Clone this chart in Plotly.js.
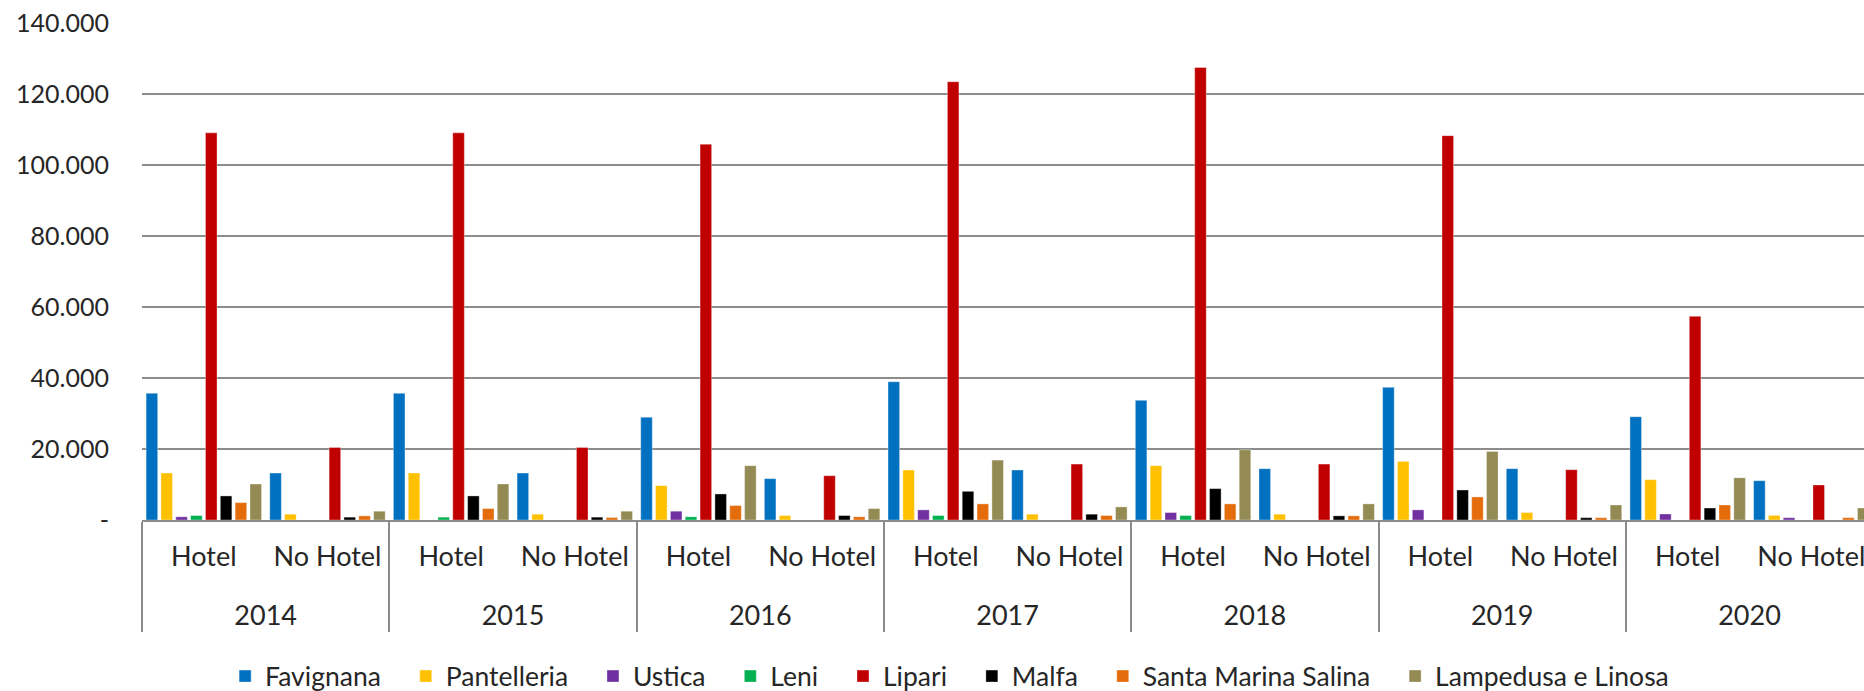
<!DOCTYPE html>
<html>
<head>
<meta charset="utf-8">
<script src="https://cdn.plot.ly/plotly-3.0.1.min.js"></script>
<style>
  html, body { margin: 0; padding: 0; background: #ffffff; overflow: hidden; }
  #chart { width: 1864px; height: 710px; }
</style>
</head>
<body>
<div id="chart"></div>
<script>
// Categories (outer: year, inner: structure type)
const years = ['2014','2014','2015','2015','2016','2016','2017','2017','2018','2018','2019','2019','2020','2020'];
const types = ['Hotel','No Hotel','Hotel','No Hotel','Hotel','No Hotel','Hotel','No Hotel','Hotel','No Hotel','Hotel','No Hotel','Hotel','No Hotel'];

// Series values
const favignana   = [35700, 13240, 35700, 13240, 28950, 11640, 38940, 14080, 33710, 14450, 37360, 14450, 29100, 11070];
const pantelleria = [13240, 1640, 13240, 1640, 9680, 1260, 14080, 1640, 15290, 1640, 16500, 2100, 11350, 1300];
const ustica      = [900, 0, 0, 0, 2480, 0, 2850, 0, 2100, 0, 2850, 0, 1690, 650];
const leni        = [1260, 0, 800, 0, 900, 0, 1260, 0, 1260, 0, 0, 0, 0, 0];
const lipari      = [109060, 20430, 109060, 20430, 105870, 12480, 123460, 15760, 127460, 15760, 108270, 14170, 57360, 9860];
const malfa       = [6780, 800, 6780, 800, 7340, 1260, 8080, 1640, 8840, 1170, 8460, 650, 3380, 0];
const santaMarina = [4900, 1170, 3220, 700, 4070, 900, 4540, 1260, 4540, 1170, 6500, 650, 4230, 650];
const lampedusa   = [10150, 2480, 10150, 2480, 15290, 3220, 16880, 3700, 19780, 4540, 19310, 4230, 11890, 3380];

const seriesNames = ['Favignana','Pantelleria','Ustica','Leni','Lipari','Malfa','Santa Marina Salina','Lampedusa e Linosa'];
const seriesData  = [favignana, pantelleria, ustica, leni, lipari, malfa, santaMarina, lampedusa];
const seriesColors = ['#0070C0','#FFC000','#7030A0','#00B050','#C00000','#000000','#E46C0A','#948A54'];

const FONT = 'Lato, "Open Sans", sans-serif';
const TXT = '#262626';

// outer labels get a leading blank line so they sit lower, like the reference
const outerLabels = years.map(y => '\u00a0<br>' + y);

const traces = seriesNames.map((name, i) => ({
  type: 'bar',
  name: i < seriesNames.length - 1 ? name + '\u2003' : name,
  x: [outerLabels, types],
  y: seriesData[i],
  marker: { color: seriesColors[i], line: { color: 'rgba(255,255,255,0.6)', width: 0.6 } },
  hoverinfo: 'y+name'
}));

const layout = {
  width: 1864,
  height: 710,
  paper_bgcolor: '#ffffff',
  plot_bgcolor: '#ffffff',
  margin: { l: 142, r: 0, t: 23, b: 189.5, pad: 0 },
  barmode: 'group',
  bargap: 0.04,
  bargroupgap: 0.22,
  separators: ',.',
  font: { family: FONT, size: 25, color: TXT },
  showlegend: true,
  legend: {
    orientation: 'h',
    x: 0.469, xanchor: 'center',
    y: -0.3146, yanchor: 'middle',
    font: { family: FONT, size: 26.5, color: TXT },
    itemwidth: 30,
    traceorder: 'normal',
    bgcolor: 'rgba(0,0,0,0)'
  },
  xaxis: {
    type: 'multicategory',
    range: [-0.5, 13.426],
    showgrid: false,
    showline: true,
    linecolor: '#8c8c8c',
    linewidth: 2,
    ticks: '',
    showdividers: true,
    dividercolor: '#8c8c8c',
    dividerwidth: 2,
    ticklabelstandoff: 12,
    tickfont: { family: FONT, size: 27, color: TXT },
    zeroline: false
  },
  yaxis: {
    range: [0, 140000],
    dtick: 20000,
    tick0: 0,
    tickformat: ',d',
    labelalias: { '0': '-' },
    showgrid: true,
    gridcolor: '#8c8c8c',
    gridwidth: 2,
    showline: false,
    zeroline: false,
    ticks: '',
    ticklabelstandoff: 32,
    tickfont: { family: FONT, size: 25, color: TXT }
  }
};

Plotly.newPlot('chart', traces, layout, { displayModeBar: false, staticPlot: true });
</script>
</body>
</html>
